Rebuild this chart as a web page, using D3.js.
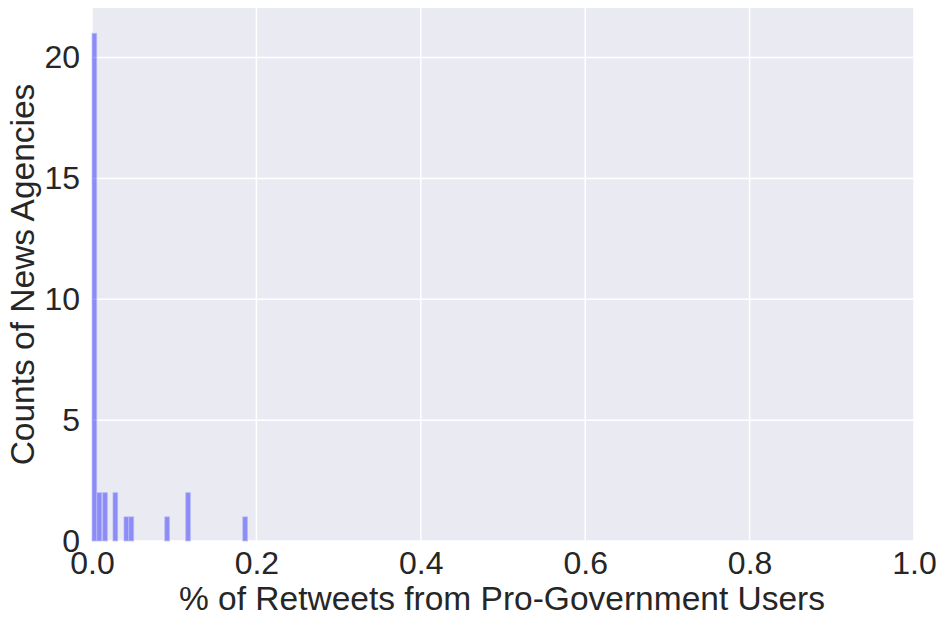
<!DOCTYPE html>
<html><head><meta charset="utf-8">
<script src="https://cdn.jsdelivr.net/npm/d3@7"></script>
<style>body{margin:0;background:#fff;} text{font-family:"Liberation Sans",Arial,sans-serif;fill:#262626;}</style>
</head><body>
<svg id="c" width="946" height="620"></svg>
<script>
const binLeft = [0, 0.0061, 0.0130, 0.0255, 0.0389, 0.0450, 0.0885, 0.1140, 0.1834];
const binWidth = 0.0057;
const counts = [21, 2, 2, 2, 1, 1, 1, 2, 1];
const xTicks = [0, 0.2, 0.4, 0.6, 0.8, 1.0];
const yTicks = [0, 5, 10, 15, 20];
const xLabel = "% of Retweets from Pro-Government Users";
const yLabel = "Counts of News Agencies";

const m = {l:92, r:32, t:8, b:79};
const W = 946, H = 620;
const svg = d3.select("#c");
const x = d3.scaleLinear().domain([0,1]).range([m.l, W-m.r]);
const y = d3.scaleLinear().domain([0,22.05]).range([H-m.b, m.t]);

svg.append("rect").attr("x",m.l).attr("y",m.t).attr("width",W-m.r-m.l).attr("height",H-m.b-m.t).attr("fill","#EAEAF2");

svg.append("g").selectAll("line").data(xTicks).join("line")
 .attr("x1",d=>x(d)).attr("x2",d=>x(d)).attr("y1",m.t).attr("y2",H-m.b)
 .attr("stroke","#fff").attr("stroke-width",1.5);
svg.append("g").selectAll("line").data(yTicks).join("line")
 .attr("y1",d=>y(d)).attr("y2",d=>y(d)).attr("x1",m.l).attr("x2",W-m.r)
 .attr("stroke","#fff").attr("stroke-width",1.5);

svg.append("g").selectAll("rect").data(counts).join("rect")
 .attr("x",(d,i)=>x(binLeft[i]))
 .attr("width",(d,i)=>x(binLeft[i]+binWidth)-x(binLeft[i]))
 .attr("y",d=>y(d)).attr("height",d=>y(0)-y(d))
 .attr("fill","rgba(0,0,255,0.4)")
 .attr("stroke","rgba(180,180,250,0.6)").attr("stroke-width",1);

const xa = svg.append("g").attr("transform",`translate(0,${H-m.b})`)
 .call(d3.axisBottom(x).tickValues(xTicks).tickFormat(d3.format(".1f")).tickSize(0).tickPadding(10));
xa.select(".domain").remove();
xa.selectAll("text").attr("font-size",32).attr("fill","#262626").attr("font-family","Liberation Sans, Arial, sans-serif");

const ya = svg.append("g").attr("transform",`translate(${m.l},0)`)
 .call(d3.axisLeft(y).tickValues(yTicks).tickFormat(d3.format("d")).tickSize(0).tickPadding(12));
ya.select(".domain").remove();
ya.selectAll("text").attr("font-size",32).attr("fill","#262626").attr("font-family","Liberation Sans, Arial, sans-serif");

svg.append("text").attr("x",502).attr("y",610).attr("text-anchor","middle")
 .attr("font-size",33.5).text(xLabel);
svg.append("text").attr("transform",`translate(34,${(m.t+H-m.b)/2}) rotate(-90)`).attr("text-anchor","middle")
 .attr("font-size",33.5).text(yLabel);
</script>
</body></html>
